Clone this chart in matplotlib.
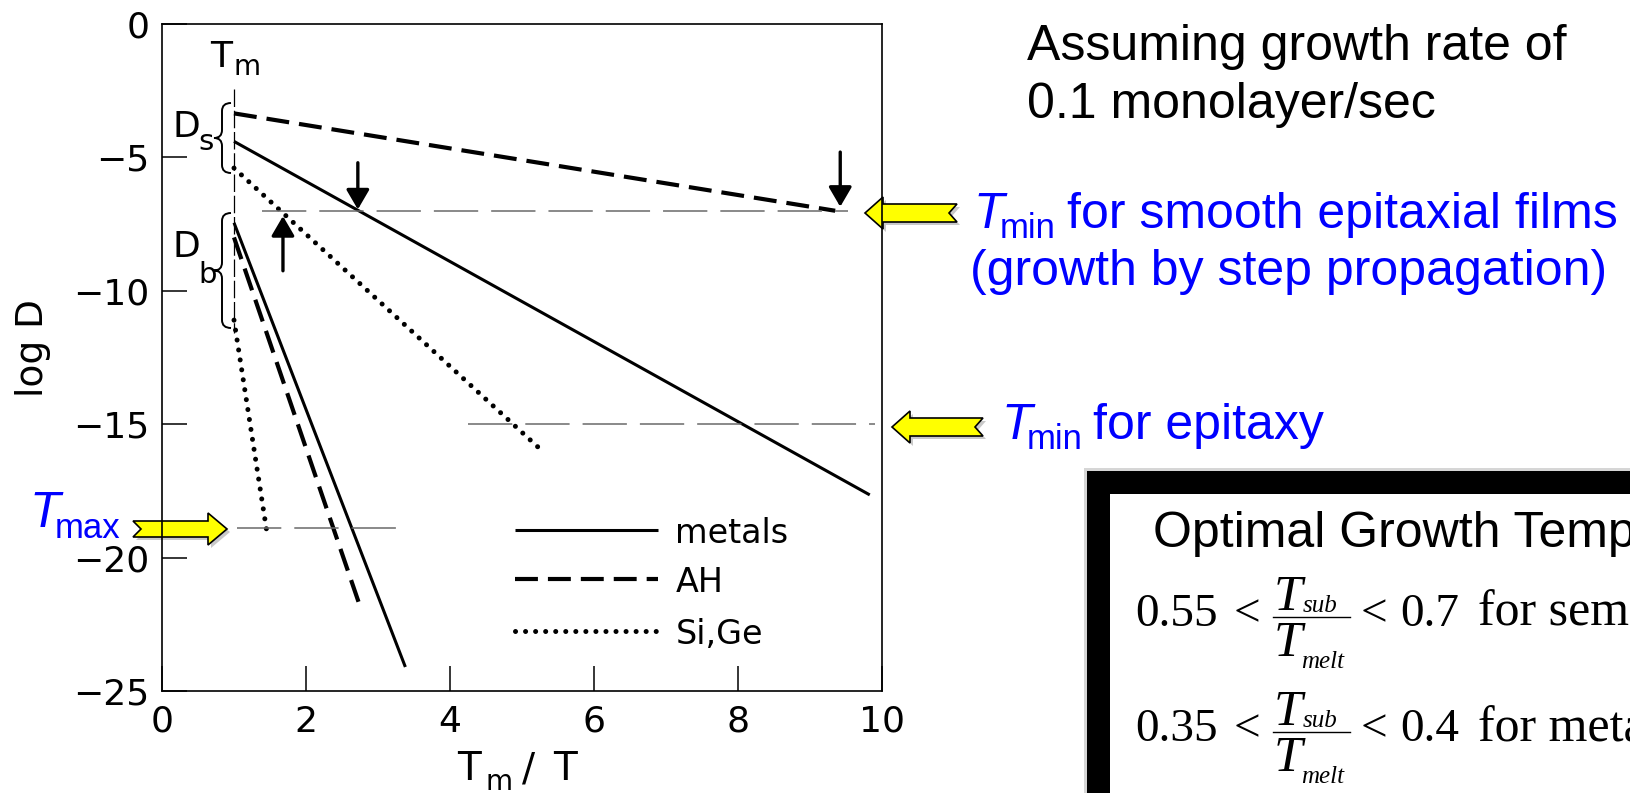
import matplotlib
matplotlib.use("Agg")
import matplotlib.pyplot as plt
from matplotlib.patches import Polygon, Rectangle, PathPatch, FancyArrowPatch, ArrowStyle
from matplotlib.path import Path
from matplotlib.transforms import Affine2D
from matplotlib.lines import Line2D

W, H = 1630, 793

# log D versus Tm/T: surface (D_s) and bulk (D_b) branches
metals_surface_x = [1.0, 9.83]
metals_surface_logD = [-4.4, -17.65]
ah_surface_x = [1.0, 9.35]
ah_surface_logD = [-3.35, -7.0]
sige_surface_x = [1.0, 5.28]
sige_surface_logD = [-5.4, -16.0]

metals_bulk_x = [1.0, 3.38]
metals_bulk_logD = [-7.45, -24.1]
ah_bulk_x = [1.0, 2.76]
ah_bulk_logD = [-8.0, -21.9]
sige_bulk_x = [1.0, 1.46]
sige_bulk_logD = [-11.1, -19.1]

# reference levels of log D and their extent along Tm/T
level_logD = [-7.0, -15.0, -18.9]
level_x_start = [1.39, 4.25, 1.04]
level_x_end = [9.53, 9.9, 3.26]

# small black arrows: position, tail and tip (log D)
marker_x = [2.72, 1.68, 9.42]
marker_tail = [-5.2, -9.25, -4.8]
marker_tip = [-6.95, -7.2, -6.85]

x_ticks = [0, 2, 4, 6, 8, 10]
x_tick_labels = ["0", "2", "4", "6", "8", "10"]
y_ticks = [0, -5, -10, -15, -20, -25]
y_tick_labels = ["0", "\u22125", "\u221210", "\u221215", "\u221220", "\u221225"]

legend_labels = ["metals", "AH", "Si,Ge"]
legend_y = [-18.97, -20.8, -22.75]

plt.rcParams["font.family"] = ["DejaVu Sans"]

fig = plt.figure(figsize=(W / 100, H / 100), dpi=100)
fig.patch.set_facecolor("white")
# pixel coordinates measured from the top-left corner of the figure
px = Affine2D().scale(1 / W, -1 / H).translate(0, 1) + fig.transFigure

ax = fig.add_axes([162 / W, 1 - 691 / H, 720 / W, 667 / H])
ax.patch.set_visible(False)
ax.set_xlim(0, 10)
ax.set_ylim(-25, 0)
ax.set_xticks(x_ticks, x_tick_labels)
ax.set_yticks(y_ticks, y_tick_labels)
ax.tick_params(direction="in", length=18, width=1.1, labelsize=26)
ax.tick_params(axis="x", pad=10)
ax.tick_params(axis="y", pad=9)
for sp in ax.spines.values():
    sp.set_linewidth(1.2)

solid = dict(color="k", lw=2.2, ls="-", solid_capstyle="butt")
dashed = dict(color="k", lw=3.0, ls=(0, (5.5, 2.4)), dash_capstyle="butt")
dotted = dict(color="k", lw=3.6, ls=(0, (0.01, 2.0)), dash_capstyle="round")
styles = [solid, dashed, dotted]

ax.plot(metals_surface_x, metals_surface_logD, **solid)
ax.plot(ah_surface_x, ah_surface_logD, **dashed)
ax.plot(sige_surface_x, sige_surface_logD, **dotted)
ax.plot(metals_bulk_x, metals_bulk_logD, **solid)
ax.plot(ah_bulk_x, ah_bulk_logD, **dashed)
ax.plot(sige_bulk_x, sige_bulk_logD, **dotted)

for yv, x0, x1 in zip(level_logD, level_x_start, level_x_end):
    ax.plot([x0, x1], [yv, yv], color="#6a6a6a", lw=1.1, ls=(0, (29, 8.5)))

# melting point marker
ax.plot([1, 1], [-2.45, -11.6], color="k", lw=0.9, ls=(0, (14, 3)))

for xm, yt, yh in zip(marker_x, marker_tail, marker_tip):
    ax.add_patch(FancyArrowPatch((xm, yt), (xm, yh),
                                 arrowstyle=ArrowStyle("-|>", head_length=12, head_width=7),
                                 mutation_scale=1, lw=2.4, color="k",
                                 shrinkA=0, shrinkB=0))

# legend drawn inside the axes
for yl, lab, st in zip(legend_y, legend_labels, styles):
    ax.plot([4.9, 6.89], [yl, yl], **st)
    ax.text(7.13, yl - 0.5, lab, fontsize=24, va="baseline", ha="left")


def brace(top, bot, xs=222, xr=231, xt=214, c=8):
    mid = (top + bot) / 2
    verts = [(xr, top), (xs, top), (xs, top + c), (xs, mid - c),
             (xs, mid), (xt, mid), (xs, mid), (xs, mid + c),
             (xs, bot - c), (xs, bot), (xr, bot)]
    codes = [Path.MOVETO, Path.CURVE3, Path.CURVE3, Path.LINETO,
             Path.CURVE3, Path.CURVE3, Path.CURVE3, Path.CURVE3,
             Path.LINETO, Path.CURVE3, Path.CURVE3]
    fig.add_artist(PathPatch(Path(verts, codes), transform=px, fill=False,
                             lw=1.4, ec="k"))


brace(103, 173)
brace(213, 328)

fig.text(173, 137, "D", transform=px, fontsize=26, va="baseline")
fig.text(198, 150, "s", transform=px, fontsize=21, va="baseline")
fig.text(173, 257, "D", transform=px, fontsize=26, va="baseline")
fig.text(198, 283, "b", transform=px, fontsize=21, va="baseline")
fig.text(210, 67, "T", transform=px, fontsize=26, va="baseline")
fig.text(233, 75, "m", transform=px, fontsize=20, va="baseline")

# axis titles
fig.text(33, 348, "log D", transform=px, fontsize=27, rotation=90,
         ha="center", va="center")
fig.text(457, 780, "T", transform=px, fontsize=28, va="baseline")
fig.text(486, 790, "m", transform=px, fontsize=20, va="baseline")
fig.text(522, 780, "/", transform=px, fontsize=28, va="baseline")
fig.text(553, 780, "T", transform=px, fontsize=28, va="baseline")


def block_arrow(tip, tail, yc, hl=18, hh=16, sh=9, nd=8):
    s = 1 if tail > tip else -1
    pts = [(tip, yc), (tip + s * hl, yc - hh), (tip + s * hl, yc - sh),
           (tail, yc - sh), (tail - s * nd, yc), (tail, yc + sh),
           (tip + s * hl, yc + sh), (tip + s * hl, yc + hh)]
    shadow = [(x + 3, y + 3) for x, y in pts]
    fig.add_artist(Polygon(shadow, closed=True, transform=px, fc="#888888",
                           ec="none", alpha=0.45, zorder=-2))
    fig.add_artist(Polygon(pts, closed=True, transform=px, fc="#FFFF00",
                           ec="k", lw=1.2, zorder=-1))


block_arrow(865, 957, 213)
block_arrow(892, 983, 427)
block_arrow(227, 133, 529, hl=19, hh=16, sh=8)

sans = "Liberation Sans"
blue = "#0000FF"

fig.text(1027, 60, "Assuming growth rate of", transform=px, fontsize=36,
         family=sans, va="baseline")
fig.text(1027, 118, "0.1 monolayer/sec", transform=px, fontsize=36,
         family=sans, va="baseline")

fig.text(974, 228, "T", transform=px, fontsize=36, family=sans,
         style="italic", color=blue, va="baseline")
fig.text(1000, 238, "min", transform=px, fontsize=25, family=sans,
         color=blue, va="baseline")
fig.text(1067, 228, "for smooth epitaxial films", transform=px, fontsize=36,
         family=sans, color=blue, va="baseline")
fig.text(970, 285, "(growth by step propagation)", transform=px, fontsize=36,
         family=sans, color=blue, va="baseline")

fig.text(1001, 439, "T", transform=px, fontsize=36, family=sans,
         style="italic", color=blue, va="baseline")
fig.text(1027, 449, "min", transform=px, fontsize=25, family=sans,
         color=blue, va="baseline")
fig.text(1093, 439, "for epitaxy", transform=px, fontsize=36,
         family=sans, color=blue, va="baseline")

fig.text(30, 527, "T", transform=px, fontsize=36, family=sans,
         style="italic", color=blue, va="baseline")
fig.text(55, 538, "max", transform=px, fontsize=25, family=sans,
         color=blue, va="baseline")

# framed box with growth temperature ranges
fig.add_artist(Rectangle((1084, 468), 700, 400, transform=px, fc="#bbbbbb",
                         ec="none", alpha=0.6, zorder=1))
fig.add_artist(Rectangle((1087, 471), 700, 400, transform=px, fc="black",
                         ec="none", zorder=1))
fig.add_artist(Rectangle((1110, 494), 700, 400, transform=px, fc="white",
                         ec="none", zorder=1))

fig.text(1153, 547, "Optimal Growth Temperature", transform=px, fontsize=36,
         family=sans, va="baseline")

serif = "Liberation Serif"
rows = [("0.55", "0.7", "for semiconductors"), ("0.35", "0.4", "for metals")]
for k, (lo, hi, what) in enumerate(rows):
    dy = 115 * k
    fig.text(1135, 626 + dy, lo, transform=px, fontsize=34, family=serif,
             va="baseline")
    fig.text(1234, 626 + dy, "<", transform=px, fontsize=34, family=serif,
             va="baseline")
    fig.add_artist(Line2D([1273, 1350], [617 + dy, 617 + dy], transform=px,
                          color="k", lw=1.0))
    fig.text(1274, 610 + dy, "T", transform=px, fontsize=37, family=serif,
             style="italic", va="baseline")
    fig.text(1303, 612 + dy, "sub", transform=px, fontsize=18, family=serif,
             style="italic", va="baseline")
    fig.text(1274, 656 + dy, "T", transform=px, fontsize=37, family=serif,
             style="italic", va="baseline")
    fig.text(1301, 668 + dy, "melt", transform=px, fontsize=18, family=serif,
             style="italic", va="baseline")
    fig.text(1361, 626 + dy, "<", transform=px, fontsize=34, family=serif,
             va="baseline")
    fig.text(1400, 626 + dy, hi, transform=px, fontsize=34, family=serif,
             va="baseline")
    fig.text(1478, 626 + dy, what, transform=px, fontsize=36, family=serif,
             va="baseline")

fig.savefig("out.png", dpi=100)
